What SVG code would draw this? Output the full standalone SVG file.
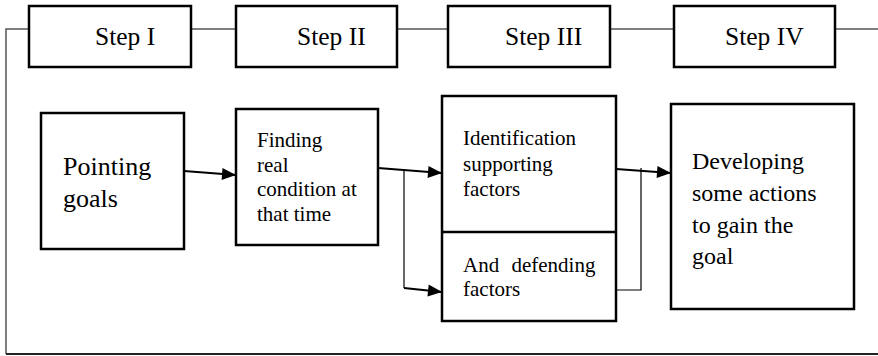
<svg xmlns="http://www.w3.org/2000/svg" width="878" height="356" viewBox="0 0 878 356">
<style>
.box{fill:#fff;stroke:#000;stroke-width:2.5}
.frame{fill:none;stroke:#555;stroke-width:1.5}
.t{font-family:"Liberation Serif","Times New Roman",serif;fill:#000}
.step{font-size:25.5px}
.big{font-size:26px}
.mid{font-size:24px}
.sm{font-size:21px}
.arr{fill:none;stroke:#000;stroke-width:2.2}
.thin{fill:none;stroke:#000;stroke-width:1.2}
</style>
<defs>
<marker id="ah" markerUnits="userSpaceOnUse" markerWidth="16" markerHeight="16" viewBox="0 0 16 16" refX="15" refY="8" orient="auto">
<path d="M1,2 L15,8 L1,14 z" fill="#000"/>
</marker>
</defs>
<rect width="878" height="356" fill="#fff"/>
<g id="frame">
<path class="frame" d="M6,354 L6,29 L29,29 M191,29 L236,29 M397,29 L448,29 M610,29 L674,29 M835,29 L878,29"/>
<path d="M6,354 L878,354" fill="none" stroke="#222" stroke-width="2"/>
</g>
<g id="step1"><rect class="box" x="29" y="6" width="162" height="61"/><text class="t step" x="95" y="45">Step I</text></g>
<g id="step2"><rect class="box" x="236" y="6" width="161" height="61"/><text class="t step" x="297" y="45">Step II</text></g>
<g id="step3"><rect class="box" x="448" y="6" width="162" height="61"/><text class="t step" x="505" y="45">Step III</text></g>
<g id="step4"><rect class="box" x="674" y="6" width="161" height="61"/><text class="t step" x="725" y="45">Step IV</text></g>
<g id="pointing"><rect class="box" x="41" y="113" width="143" height="136"/><text class="t big" x="63" y="175">Pointing</text><text class="t big" x="63" y="207">goals</text></g>
<g id="finding"><rect class="box" x="236" y="109" width="142" height="136"/>
<text class="t sm" x="257" y="147">Finding</text><text class="t sm" x="257" y="172">real</text><text class="t sm" x="257" y="196">condition at</text><text class="t sm" x="257" y="221">that time</text></g>
<g id="identification"><rect class="box" x="442" y="96" width="174" height="225"/><line x1="442" y1="232" x2="616" y2="232" stroke="#000" stroke-width="2.5"/>
<text class="t sm" x="463" y="145">Identification</text><text class="t sm" x="463" y="171">supporting</text><text class="t sm" x="463" y="196">factors</text>
<text class="t sm" x="463" y="272" word-spacing="7">And defending</text><text class="t sm" x="463" y="296">factors</text></g>
<g id="developing"><rect class="box" x="671" y="104" width="183" height="205"/>
<text class="t mid" x="692" y="169">Developing</text><text class="t mid" x="692" y="201">some actions</text><text class="t mid" x="692" y="233">to gain the</text><text class="t mid" x="692" y="264">goal</text></g>
<g id="connectors">
<path class="arr" d="M184,171 L236,175" marker-end="url(#ah)"/>
<path class="arr" d="M378,168 L442,173" marker-end="url(#ah)"/>
<path class="thin" d="M404,170 L404,288"/>
<path class="arr" d="M404,288 L442,292" marker-end="url(#ah)"/>
<path class="arr" d="M616,169 L671,173" marker-end="url(#ah)"/>
<path class="thin" d="M641,168 L641,290 L616,290"/>
</g>
</svg>
